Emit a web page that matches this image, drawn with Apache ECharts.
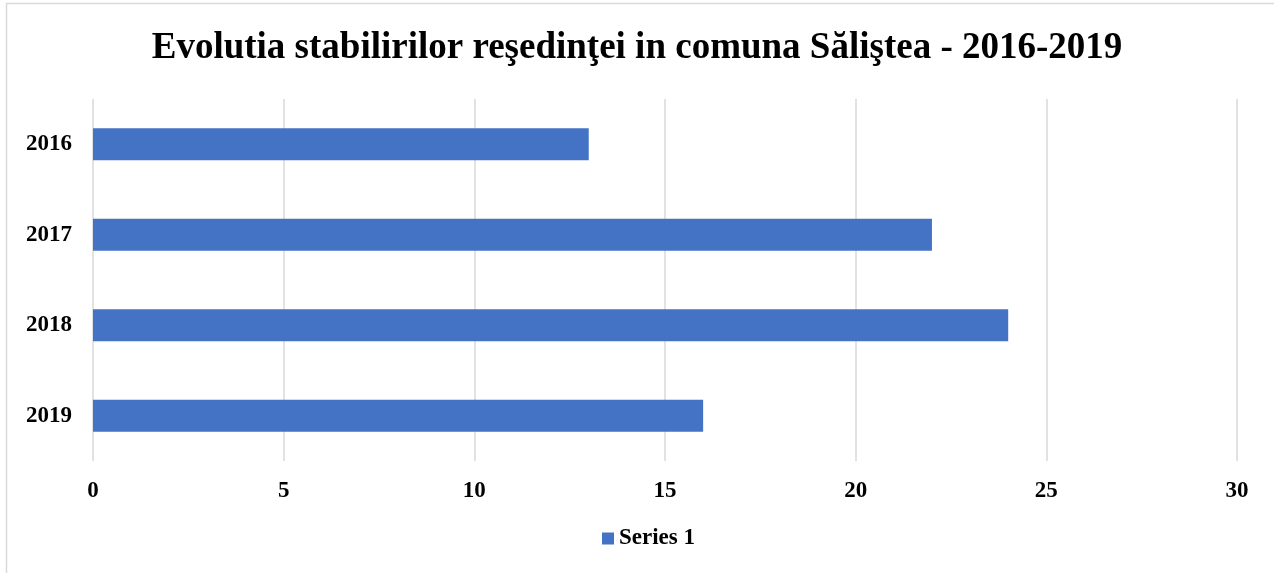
<!DOCTYPE html>
<html lang="ro">
<head>
    <meta charset="UTF-8">
    <title>Evolutia stabilirilor reşedinţei in comuna Săliştea - 2016-2019</title>
    <script src="https://cdn.jsdelivr.net/npm/echarts@6/dist/echarts.min.js"></script>
    <style>
        html, body { margin: 0; padding: 0; background: #fff; }
        #container { width: 1274px; height: 573px; }
    </style>
</head>
<body>
<div id="container"></div>
<script>
    var years = ["2016", "2017", "2018", "2019"];
    var values = [13, 22, 24, 16];
    var seriesName = "Series 1";

    var font = "'Liberation Serif', 'Times New Roman', serif";
    var chart = echarts.init(document.getElementById('container'));

    var option = {
        animation: false,
        graphic: [{
            type: 'rect',
            shape: { x: 6.5, y: 3.5, width: 1400, height: 800 },
            style: { fill: 'none', stroke: '#d9d9d9', lineWidth: 1.5 },
            silent: true
        }],
        title: {
            text: 'Evolutia stabilirilor reşedinţei in comuna Săliştea - 2016-2019',
            left: 'center',
            top: 25,
            textStyle: { fontFamily: font, fontWeight: 'bold', fontSize: 37, color: '#000' }
        },
        legend: {
            data: [seriesName],
            bottom: 18,
            left: 597,
            icon: 'rect',
            itemWidth: 12,
            itemHeight: 12,
            itemGap: 5,
            textStyle: { fontFamily: font, fontWeight: 'bold', fontSize: 23, color: '#000' }
        },
        grid: { left: 93, right: 37, top: 99, bottom: 112 },
        xAxis: {
            type: 'value',
            min: 0,
            max: 30,
            interval: 5,
            axisLine: { show: false },
            axisTick: { show: false },
            splitLine: { lineStyle: { color: '#d9d9d9', width: 1.5 } },
            axisLabel: { margin: 19, fontFamily: font, fontWeight: 'bold', fontSize: 23, color: '#000' }
        },
        yAxis: {
            type: 'category',
            data: years,
            inverse: true,
            axisLine: { show: false },
            axisTick: { show: false },
            axisLabel: { margin: 21, fontFamily: font, fontWeight: 'bold', fontSize: 23, color: '#000' }
        },
        series: [{
            name: seriesName,
            type: 'bar',
            data: values,
            barWidth: 32,
            itemStyle: { color: '#4472c4' }
        }]
    };
    chart.setOption(option);
</script>
</body>
</html>
